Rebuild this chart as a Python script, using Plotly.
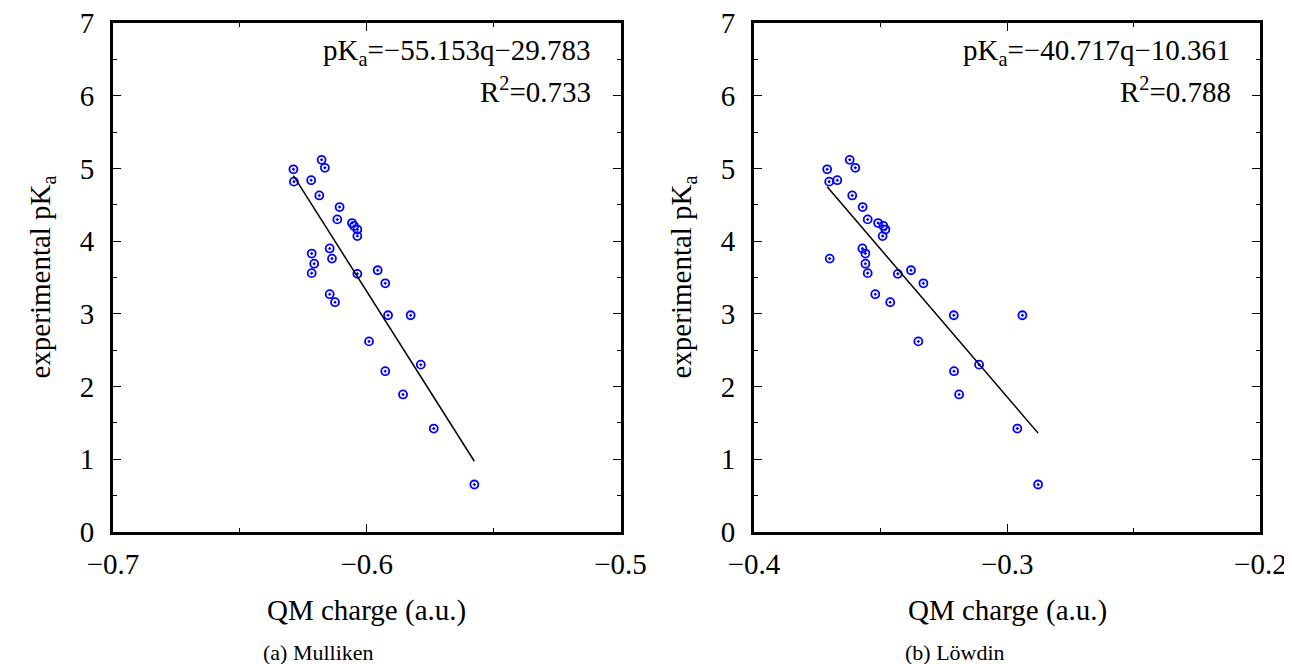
import plotly.graph_objects as go
from plotly.subplots import make_subplots

# experimental pKa (same compounds in both panels)
pka = [5.12, 5.01, 4.99, 4.84, 4.82, 4.63, 4.47, 4.30, 4.25, 4.21,
       4.16, 4.07, 3.90, 3.83, 3.76, 3.69, 3.60, 3.56, 3.55, 3.42,
       3.27, 3.16, 2.98, 2.98, 2.62, 2.30, 2.21, 1.89, 1.42, 0.65]

# Mulliken charges
q_mulliken = [-0.6178, -0.6165, -0.6289, -0.6219, -0.6287, -0.6187, -0.6107, -0.6116, -0.6058, -0.6050,
              -0.6037, -0.6037, -0.6146, -0.6217, -0.6137, -0.6207, -0.5957, -0.6217, -0.6037, -0.5927,
              -0.6146, -0.6125, -0.5916, -0.5827, -0.5991, -0.5787, -0.5927, -0.5857, -0.5736, -0.5576]

# Loewdin charges
q_lowdin = [-0.3622, -0.3600, -0.3711, -0.3671, -0.3703, -0.3612, -0.3571, -0.3551, -0.3510, -0.3489,
            -0.3481, -0.3492, -0.3572, -0.3560, -0.3701, -0.3560, -0.3380, -0.3551, -0.3432, -0.3331,
            -0.3521, -0.3462, -0.3211, -0.2940, -0.3351, -0.3111, -0.3210, -0.3190, -0.2960, -0.2878]

# linear fits as printed on the chart
fit_slope = [-55.153, -40.717]
fit_intercept = [-29.783, -10.361]
r_squared = [0.733, 0.788]

captions = ["(a) Mulliken", "(b) Löwdin"]
x_ranges = [[-0.7, -0.5], [-0.4, -0.2]]
x_title = "QM charge (a.u.)"
y_title = "experimental pK<sub>a</sub>"

FONT = "Liberation Serif"
FS = 29
W, H = 1284, 656  # page body adds an 8px margin

fig = make_subplots(rows=1, cols=2)

for i, q in enumerate([q_mulliken, q_lowdin]):
    col = i + 1
    fig.add_trace(go.Scatter(
        x=q, y=pka, mode="markers",
        marker=dict(symbol="circle-open-dot", color="#0000ff", size=8,
                    line=dict(width=1.8, color="#0000ff")),
        showlegend=False), row=1, col=col)
    xs = [min(q), max(q)]
    ys = [fit_slope[i] * x + fit_intercept[i] for x in xs]
    fig.add_trace(go.Scatter(
        x=xs, y=ys, mode="lines",
        line=dict(color="black", width=1.5), showlegend=False), row=1, col=col)

axis_common = dict(
    showline=True, linecolor="black", linewidth=3, mirror="allticks",
    ticks="inside", ticklen=8, tickwidth=1.2, tickcolor="black",
    showgrid=False, zeroline=False, automargin=False, ticklabeloverflow="allow",
    tickfont=dict(family=FONT, size=FS, color="black"),
    minor=dict(ticks="inside", ticklen=4, tickwidth=1.2, tickcolor="black", showgrid=False),
)

domains_x = [[105 / W, 612.5 / W], [746 / W, 1252.4 / W]]
y_domain = [1 - 523.7 / H, 1 - 15.3 / H]
title_font = dict(family=FONT, size=FS, color="black")

for i in range(2):
    xa = "xaxis" if i == 0 else "xaxis2"
    ya = "yaxis" if i == 0 else "yaxis2"
    fig.layout[xa].update(range=x_ranges[i], dtick=0.1, domain=domains_x[i],
                          ticklabelstandoff=4, minor_dtick=0.05, **axis_common)
    fig.layout[ya].update(range=[0, 7], dtick=1, domain=y_domain,
                          ticklabelstandoff=10, minor_dtick=0.5, **axis_common)

    xref = "x domain" if i == 0 else "x2 domain"
    yref = "y domain" if i == 0 else "y2 domain"
    eq = "pK<sub>a</sub>=%s%.3fq%s%.3f" % (
        "\u2212" if fit_slope[i] < 0 else "", abs(fit_slope[i]),
        "\u2212" if fit_intercept[i] < 0 else "+", abs(fit_intercept[i]))
    fig.add_annotation(text=eq, xref=xref, yref=yref, x=0.946, y=0.943,
                       xanchor="right", yanchor="middle", showarrow=False, font=title_font)
    fig.add_annotation(text="R<sup>2</sup>=%.3f" % r_squared[i], xref=xref, yref=yref,
                       x=0.946, y=0.869, xanchor="right", yanchor="middle",
                       showarrow=False, font=title_font)

    # axis titles
    cx = sum(domains_x[i]) / 2
    fig.add_annotation(text=x_title, xref="paper", yref="paper", x=cx, y=1 - 602 / H,
                       xanchor="center", yanchor="middle", showarrow=False, font=title_font)
    fig.add_annotation(text=y_title, xref="paper", yref="paper",
                       x=(33 + 641 * i) / W, y=sum(y_domain) / 2, textangle=-90,
                       xanchor="center", yanchor="middle", showarrow=False, font=title_font)
    # sub-figure captions
    fig.add_annotation(text=captions[i], xref="paper", yref="paper",
                       x=(310 + 637 * i) / W, y=1 - 644 / H, xanchor="center",
                       yanchor="middle", showarrow=False,
                       font=dict(family=FONT, size=22, color="black"))

fig.update_layout(
    width=W, height=H,
    margin=dict(l=0, r=0, t=0, b=0),
    paper_bgcolor="white", plot_bgcolor="white",
    font=dict(family=FONT, color="black"),
)

fig.write_html("out.html")
